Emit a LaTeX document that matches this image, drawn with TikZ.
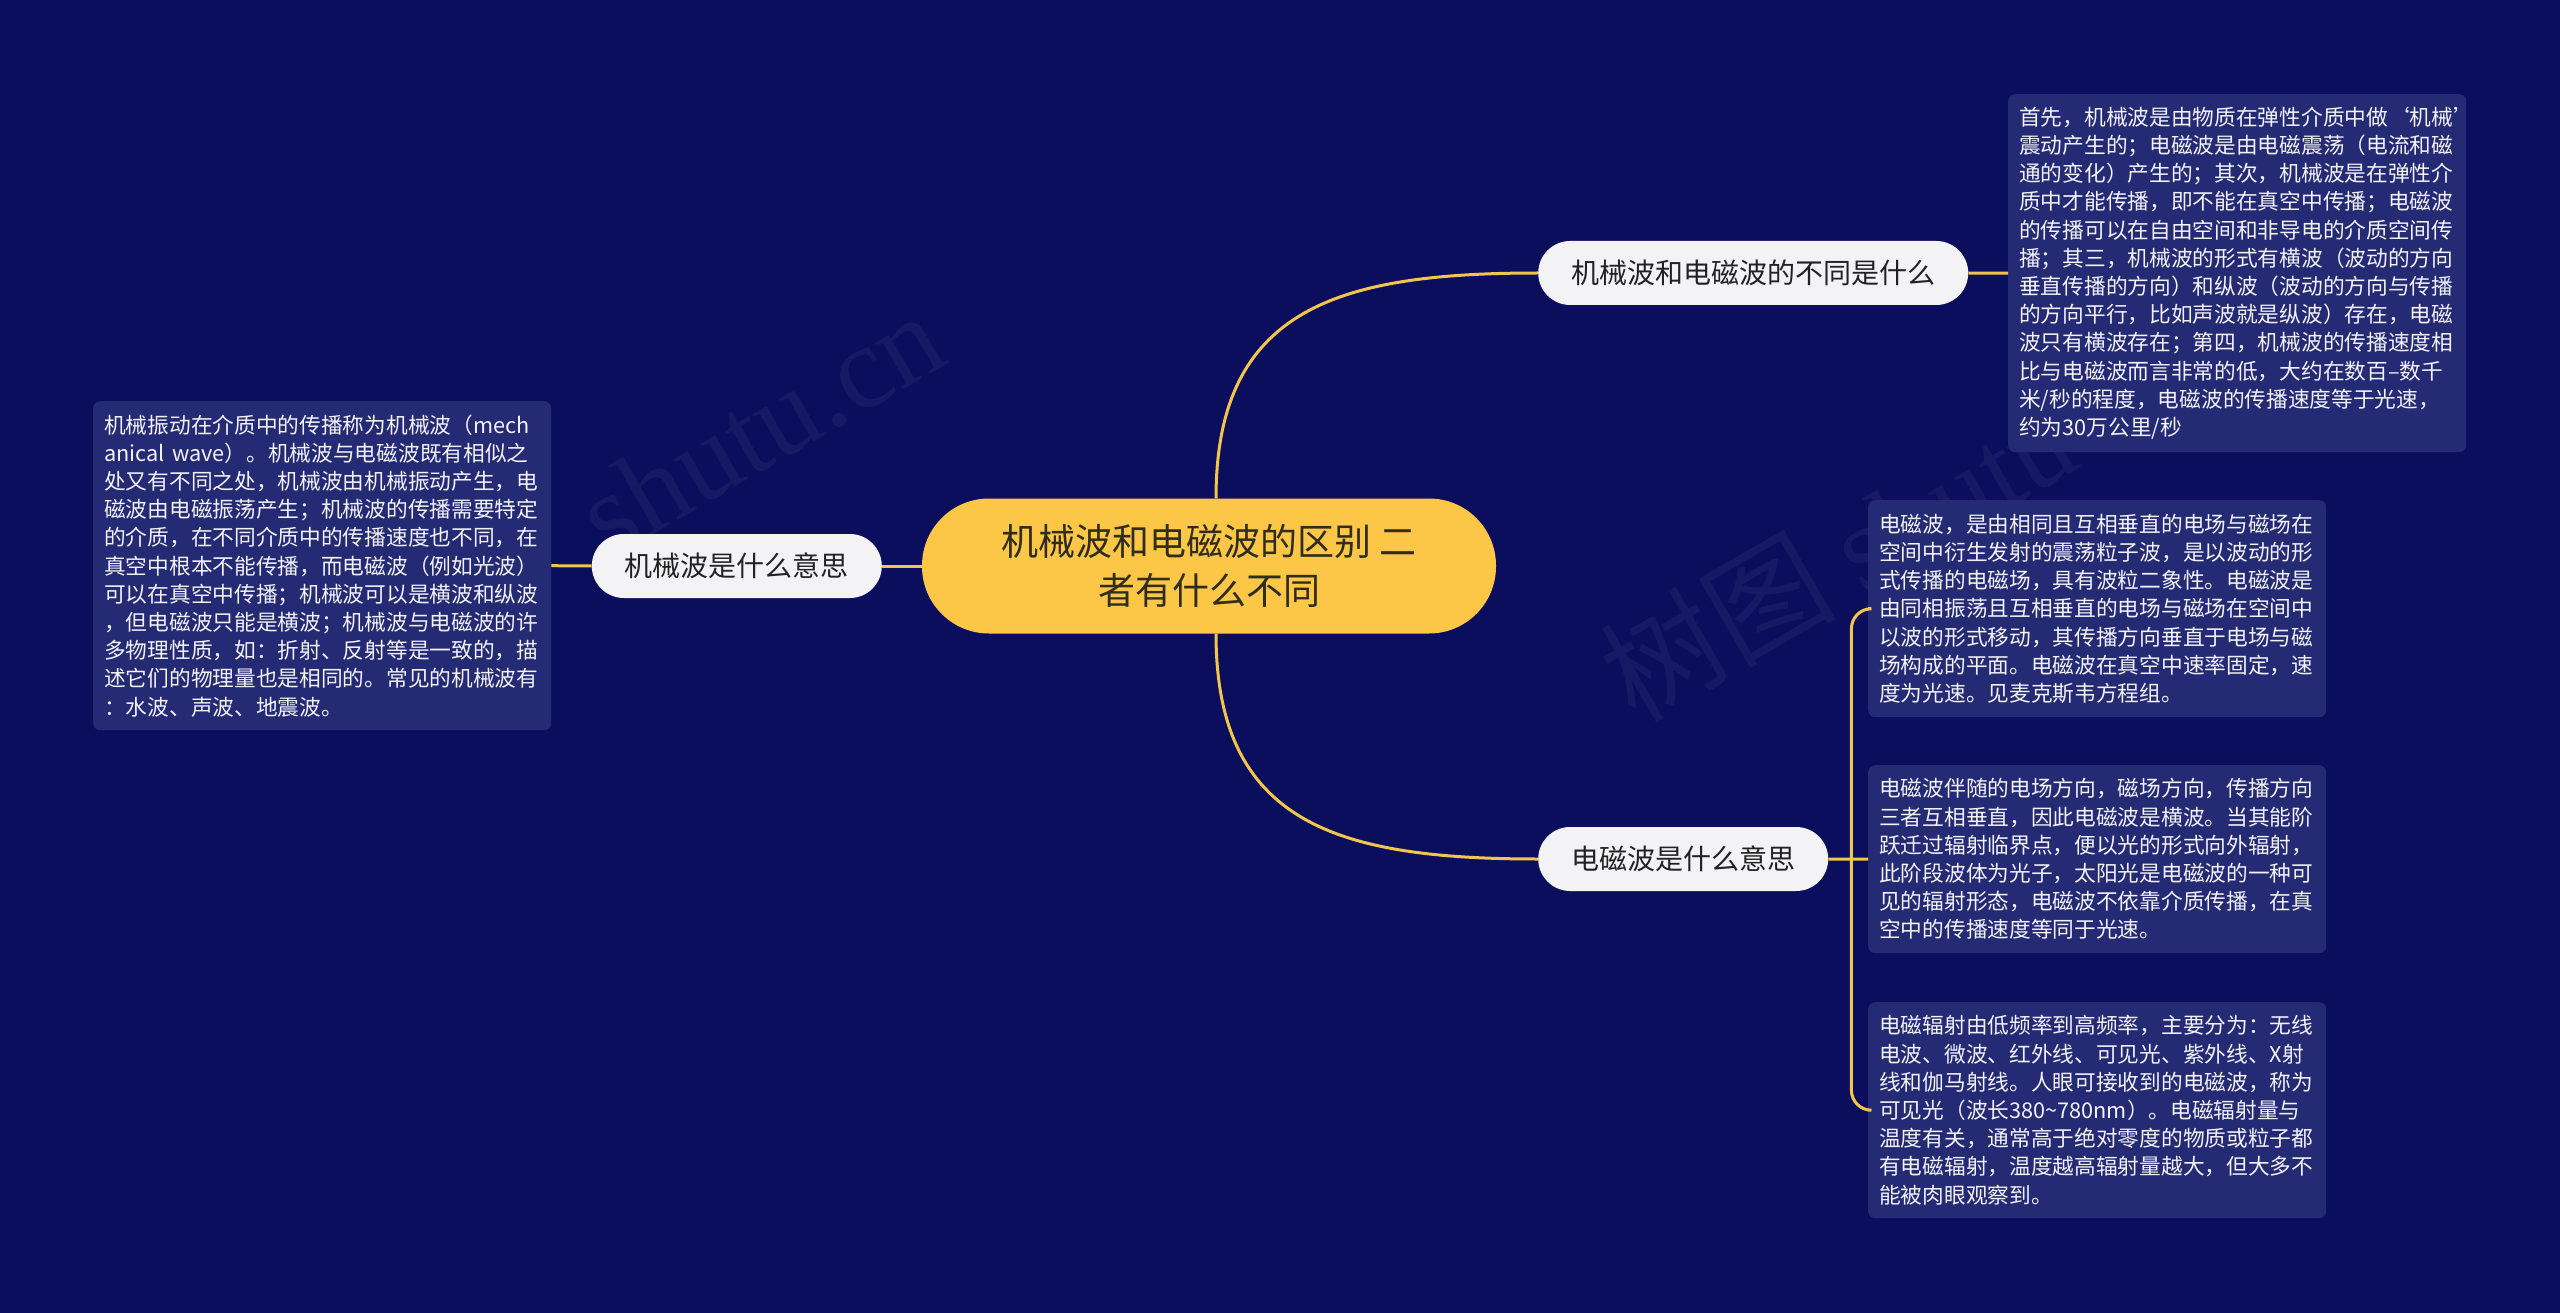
\documentclass[tikz,border=0pt]{standalone}
\usepackage{fontspec}
\newfontfamily\cjk{Noto Sans CJK SC}
\newfontfamily\wmserif{Liberation Serif}
\usetikzlibrary{calc}
\definecolor{bg}{RGB}{10,14,92}
\definecolor{boxfill}{RGB}{36,42,115}
\definecolor{conn}{RGB}{242,198,76}
\definecolor{pillfill}{RGB}{243,243,245}
\definecolor{pilltext}{RGB}{34,34,34}
\definecolor{rootfill}{RGB}{252,199,70}
\definecolor{roottext}{RGB}{48,44,30}
\definecolor{boxtext}{RGB}{242,242,248}
\begin{document}
\begin{tikzpicture}[x=1pt,y=-1pt,
  descbox/.style={fill=boxfill, rounded corners=7, text=boxtext, font=\cjk\fontsize{21.7}{28.2}\selectfont, align=left, text width=436, inner xsep=11, inner ysep=0, anchor=north west},
  pill/.style={fill=pillfill, text=pilltext, rounded corners=32, minimum height=64, inner xsep=33, inner ysep=0, font=\cjk\fontsize{28}{34}\selectfont},
  rootnode/.style={fill=rootfill, text=roottext, rounded corners=67, minimum width=574, minimum height=135, align=center, font=\cjk\fontsize{37}{49}\selectfont},
  link/.style={draw=conn, line width=3},
  wm/.style={text=white, opacity=0.05, rotate=30, inner sep=0, font=\fontsize{118}{118}\selectfont}
]
\useasboundingbox (0,0) rectangle (2560,1313);
\fill[bg] (0,0) rectangle (2560,1313);

% watermarks
\node[wm, anchor=base east] (wm1) at (952,362) {\wmserif shutu.cn};
\node[wm, anchor=base west] (wm2) at (1635,725) {\cjk 树图 \wmserif shutu};

% root
\node[rootnode] (root) at (1209,566) {机械波和电磁波的区别 二\\者有什么不同};

% subtopics
\node[pill, anchor=west] (s1) at (1538,273) {机械波和电磁波的不同是什么};
\node[pill, anchor=east] (s0) at (882,566) {机械波是什么意思};
\node[pill, anchor=west] (s2) at (1538,859) {电磁波是什么意思};

% description boxes
\node[descbox, minimum height=358] (tr) at (2008,94) {首先，机械波是由物质在弹性介质中做‘机械’\\
震动产生的；电磁波是由电磁震荡（电流和磁\\
通的变化）产生的；其次，机械波是在弹性介\\
质中才能传播，即不能在真空中传播；电磁波\\
的传播可以在自由空间和非导电的介质空间传\\
播；其三，机械波的形式有横波（波动的方向\\
垂直传播的方向）和纵波（波动的方向与传播\\
的方向平行，比如声波就是纵波）存在，电磁\\
波只有横波存在；第四，机械波的传播速度相\\
比与电磁波而言非常的低，大约在数百–数千\\
米/秒的程度，电磁波的传播速度等于光速，\\
约为30万公里/秒};

\node[descbox, minimum height=329] (lb) at (93,401) {机械振动在介质中的传播称为机械波（mech\\
anical wave）。机械波与电磁波既有相似之\\
处又有不同之处，机械波由机械振动产生，电\\
磁波由电磁振荡产生；机械波的传播需要特定\\
的介质，在不同介质中的传播速度也不同，在\\
真空中根本不能传播，而电磁波（例如光波）\\
可以在真空中传播；机械波可以是横波和纵波\\
，但电磁波只能是横波；机械波与电磁波的许\\
多物理性质，如：折射、反射等是一致的，描\\
述它们的物理量也是相同的。常见的机械波有\\
：水波、声波、地震波。};

\node[descbox, minimum height=217] (b1) at (1868,500) {电磁波，是由相同且互相垂直的电场与磁场在\\
空间中衍生发射的震荡粒子波，是以波动的形\\
式传播的电磁场，具有波粒二象性。电磁波是\\
由同相振荡且互相垂直的电场与磁场在空间中\\
以波的形式移动，其传播方向垂直于电场与磁\\
场构成的平面。电磁波在真空中速率固定，速\\
度为光速。见麦克斯韦方程组。};

\node[descbox, minimum height=188] (b2) at (1868,765) {电磁波伴随的电场方向，磁场方向，传播方向\\
三者互相垂直，因此电磁波是横波。当其能阶\\
跃迁过辐射临界点，便以光的形式向外辐射，\\
此阶段波体为光子，太阳光是电磁波的一种可\\
见的辐射形态，电磁波不依靠介质传播，在真\\
空中的传播速度等同于光速。};

\node[descbox, minimum height=216] (b3) at (1868,1002) {电磁辐射由低频率到高频率，主要分为：无线\\
电波、微波、红外线、可见光、紫外线、X射\\
线和伽马射线。人眼可接收到的电磁波，称为\\
可见光（波长380\textasciitilde780nm）。电磁辐射量与\\
温度有关，通常高于绝对零度的物质或粒子都\\
有电磁辐射，温度越高辐射量越大，但大多不\\
能被肉眼观察到。};

% connectors
\draw[link] ([xshift=7]root.north) .. controls +(0,-190) and +(-200,0) .. (s1.west);
\draw[link] ([xshift=7]root.south) .. controls +(0,190) and +(-200,0) .. (s2.west);
\draw[link] (root.west) -- (s0.east);
\draw[link] (s0.west) -- (lb.east);
\draw[link] (s1.east) -- (tr.west);
\coordinate (jn) at ([xshift=23]s2.east);
\draw[link] (s2.east) -- (b2.west);
\draw[link, rounded corners=20] (jn) |- (b1.west);
\draw[link, rounded corners=20] (jn) |- (b3.west);
\end{tikzpicture}
\end{document}
